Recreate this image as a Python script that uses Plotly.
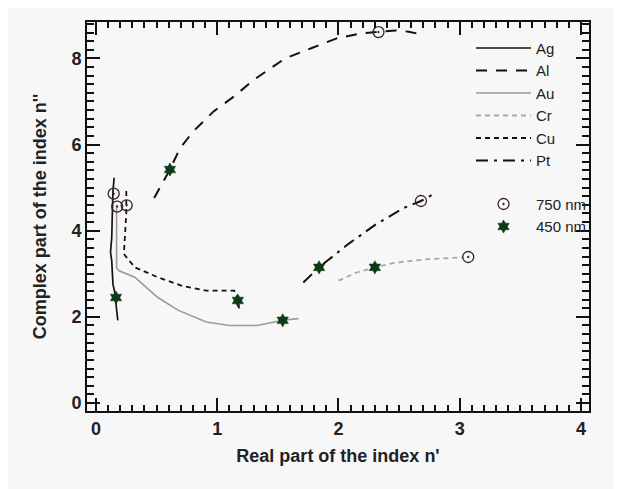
import numpy as np
import plotly.graph_objects as go

# ---- data ----
ag_n = [0.15, 0.14, 0.135, 0.13, 0.12, 0.13, 0.14, 0.16, 0.165, 0.18]
ag_k = [5.23, 4.92, 4.40, 3.84, 3.50, 3.30, 2.76, 2.50, 2.30, 1.92]

al_n = [0.48, 0.55, 0.61, 0.69, 0.80, 0.97, 1.14, 1.30, 1.56, 1.77, 1.98, 2.18, 2.33, 2.47, 2.58, 2.69]
al_k = [4.76, 5.10, 5.42, 5.90, 6.30, 6.77, 7.12, 7.50, 8.00, 8.23, 8.46, 8.58, 8.61, 8.65, 8.62, 8.55]

au_n = [0.17, 0.17, 0.19, 0.32, 0.51, 0.68, 0.91, 1.10, 1.33, 1.54, 1.67]
au_k = [4.60, 3.14, 3.07, 2.92, 2.45, 2.15, 1.88, 1.80, 1.80, 1.92, 1.96]

cr_n = [2.00, 2.15, 2.30, 2.47, 2.74, 3.03]
cr_k = [2.84, 3.03, 3.15, 3.26, 3.34, 3.38]

cu_n = [0.25, 0.25, 0.23, 0.32, 0.51, 0.71, 0.91, 1.14, 1.17, 1.18]
cu_k = [4.92, 4.40, 3.46, 3.15, 2.92, 2.72, 2.61, 2.61, 2.40, 2.20]

pt_n = [1.71, 1.84, 2.08, 2.31, 2.54, 2.68, 2.79]
pt_k = [2.80, 3.15, 3.69, 4.15, 4.53, 4.69, 4.86]

# markers: Ag, Au, Cu, Al, Pt, Cr
n750 = [0.146, 0.175, 0.253, 2.33, 2.68, 3.07]
k750 = [4.86, 4.56, 4.59, 8.61, 4.69, 3.39]
# markers: Ag, Al, Cu, Au, Pt, Cr
n450 = [0.165, 0.61, 1.17, 1.54, 1.84, 2.30]
k450 = [2.45, 5.42, 2.38, 1.92, 3.15, 3.15]

X_RANGE = [-0.074, 4.066]
Y_RANGE = [-0.185, 8.845]

BG = "#f7f7f7"
INK = "#111111"
FONT = "Liberation Sans, Arial, sans-serif"

fig = go.Figure()

lines = [
    ("Ag", ag_n, ag_k, "#1a1010", "solid", 1.7),
    ("Al", al_n, al_k, INK, "11px,9px", 2.0),
    ("Au", au_n, au_k, "#9a9a9a", "solid", 1.6),
    ("Cr", cr_n, cr_k, "#a8a8a8", "5px,4px", 1.8),
    ("Cu", cu_n, cu_k, INK, "5px,4px", 1.8),
    ("Pt", pt_n, pt_k, INK, "12px,6px,3px,6px", 2.0),
]
for name, xs, ys, col, dash, w in lines:
    fig.add_trace(go.Scatter(
        x=xs, y=ys, mode="lines", name=name, legendgroup="lines",
        line=dict(color=col, dash=dash, width=w, shape="linear"),
    ))

fig.add_trace(go.Scatter(
    x=n750, y=k750, mode="markers", name="750 nm", legendgroup="markers",
    marker=dict(symbol="circle-open-dot", size=11, color="#3a2222",
                line=dict(width=1.3, color="#3a2222")),
))
fig.add_trace(go.Scatter(
    x=n450, y=k450, mode="markers", name="450 nm", legendgroup="markers",
    marker=dict(symbol="hexagram", size=10, color="#0c3a16",
                line=dict(width=0.5, color="#0c3a16")),
))

axis_common = dict(
    showgrid=False, zeroline=False, showline=True, linecolor=INK,
    linewidth=2, mirror="ticks", ticks="inside", tickcolor=INK,
    tickwidth=2, ticklen=13, tickmode="linear", tick0=0,
    tickfont=dict(family=FONT, size=18, color="#222222", weight="bold"),
    title_font=dict(family=FONT, size=18, color="#222222", weight="bold"),
)

fig.update_xaxes(
    range=X_RANGE, dtick=1,
    minor=dict(ticks="inside", dtick=0.1, tick0=0, ticklen=6,
               tickcolor=INK, tickwidth=2),
    title=dict(text="Real part of the index n'", standoff=12),
    **axis_common,
)
fig.update_yaxes(
    range=Y_RANGE, dtick=2,
    minor=dict(ticks="inside", dtick=0.2, tick0=0, ticklen=7,
               tickcolor=INK, tickwidth=2),
    title=dict(text="Complex part of the index n''", standoff=20),
    **axis_common,
)

fig.update_layout(
    width=613, height=481,
    margin=dict(l=79, r=32, t=12, b=78),
    paper_bgcolor=BG, plot_bgcolor=BG,
    font=dict(family=FONT, color="#222222"),
    legend=dict(
        x=0.765, y=0.975, xanchor="left", yanchor="top",
        bgcolor="rgba(0,0,0,0)", borderwidth=0,
        font=dict(family=FONT, size=15, color="#222222"),
        itemwidth=55, traceorder="grouped", tracegroupgap=21,
    ),
)

fig.write_html("out.html")
